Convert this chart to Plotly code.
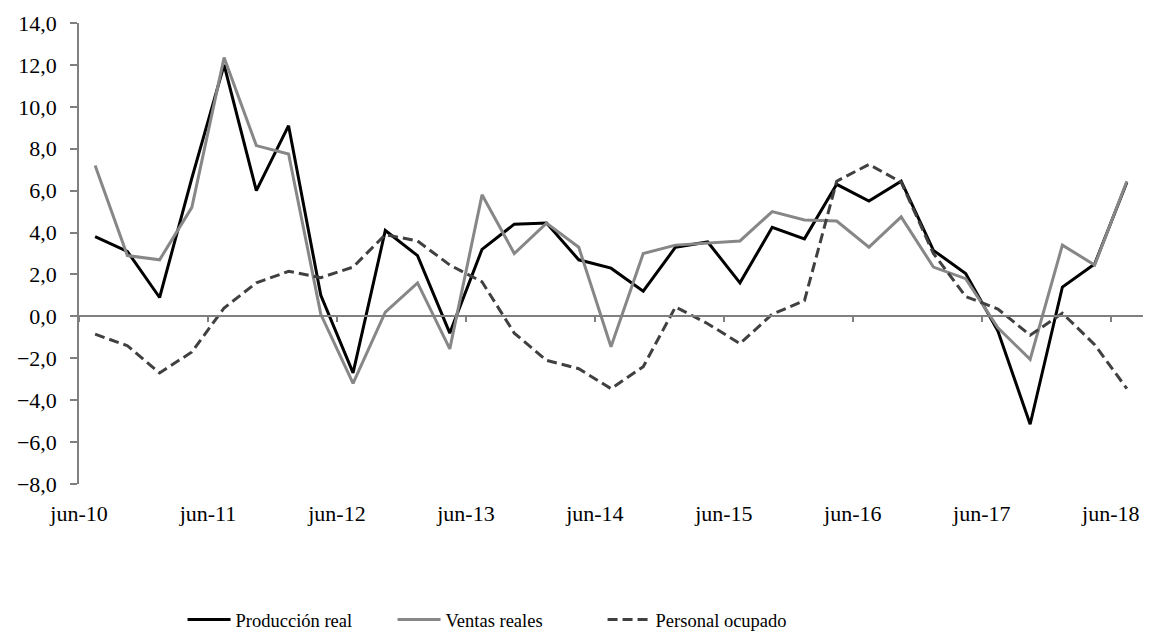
import plotly.graph_objects as go

# trimestres jun-10 ... jun-18
meses = ["jun", "sep", "dic", "mar"]
periodos = []
for k in range(33):
    anio = 10 + (k + 1) // 4 if k % 4 == 3 else 10 + k // 4
    periodos.append(f"{meses[k % 4]}-{anio:02d}")

produccion_real = [3.8, 3.1, 0.9, 6.6, 12.0, 6.0, 9.1, 1.0, -2.7, 4.1, 2.9, -0.8,
                   3.2, 4.4, 4.45, 2.7, 2.3, 1.2, 3.3, 3.55, 1.6, 4.25, 3.7, 6.3,
                   5.5, 6.45, 3.15, 2.05, -0.7, -5.15, 1.4, 2.5, 6.4]
ventas_reales = [7.2, 2.9, 2.7, 5.2, 12.35, 8.15, 7.75, 0.1, -3.2, 0.2, 1.6, -1.55,
                 5.8, 3.0, 4.45, 3.3, -1.45, 3.0, 3.4, 3.5, 3.6, 5.0, 4.6, 4.55,
                 3.3, 4.75, 2.35, 1.8, -0.55, -2.05, 3.4, 2.45, 6.45]
personal_ocupado = [-0.85, -1.4, -2.7, -1.7, 0.4, 1.6, 2.15, 1.85, 2.35, 3.9, 3.6, 2.45,
                    1.65, -0.8, -2.1, -2.5, -3.45, -2.4, 0.45, -0.35, -1.3, 0.1, 0.75, 6.45,
                    7.25, 6.4, 3.0, 0.95, 0.35, -0.9, 0.15, -1.35, -3.45]

x = list(range(len(periodos)))
etiquetas = periodos[::4]
posiciones = [i - 0.5 for i in range(0, len(periodos), 4)]

fuente = "Liberation Serif, Times New Roman, serif"

fig = go.Figure()
fig.add_trace(go.Scatter(x=x, y=produccion_real, name="Producción real", mode="lines",
                         line=dict(color="#000000", width=3)))
fig.add_trace(go.Scatter(x=x, y=ventas_reales, name="Ventas reales", mode="lines",
                         line=dict(color="#878787", width=3)))
fig.add_trace(go.Scatter(x=x, y=personal_ocupado, name="Personal ocupado", mode="lines",
                         xaxis="x2",
                         line=dict(color="#404040", width=3, dash="10px,5px")))

# la página añade 8px de margen, por eso 1156x629
fig.update_layout(
    width=1156, height=629,
    margin=dict(l=71, r=21, t=15, b=153, autoexpand=False),
    plot_bgcolor="white", paper_bgcolor="white",
    separators=",.",
    font=dict(family=fuente, size=22, color="black"),
    showlegend=True,
    legend=dict(orientation="h", xref="container", yref="container",
                x=0.151, xanchor="left", y=0.027, yanchor="middle",
                font=dict(family=fuente, size=18.5, color="black"),
                itemwidth=43, entrywidth=152, traceorder="normal"),
    xaxis=dict(range=[-0.5, 32.5], tickvals=posiciones, ticktext=etiquetas,
               showgrid=False, zeroline=False, showline=False, ticks="",
               ticklabelstandoff=14, automargin=False),
    xaxis2=dict(range=[-0.5, 32.5], overlaying="x", anchor="free", position=8 / 22,
                tickvals=posiciones, showticklabels=False, showgrid=False, zeroline=False,
                showline=True, linecolor="#808080", linewidth=1.5, automargin=False,
                ticks="outside", ticklen=5, tickcolor="#808080", tickwidth=1.5),
    yaxis=dict(range=[-8, 14], dtick=2, tickformat=".1f", showgrid=False,
               zeroline=False, showline=True, linecolor="#808080", linewidth=1.5,
               ticks="outside", ticklen=7, tickcolor="#808080", tickwidth=1.5,
               ticklabelstandoff=9, automargin=False),
)

fig.write_html("out.html")
